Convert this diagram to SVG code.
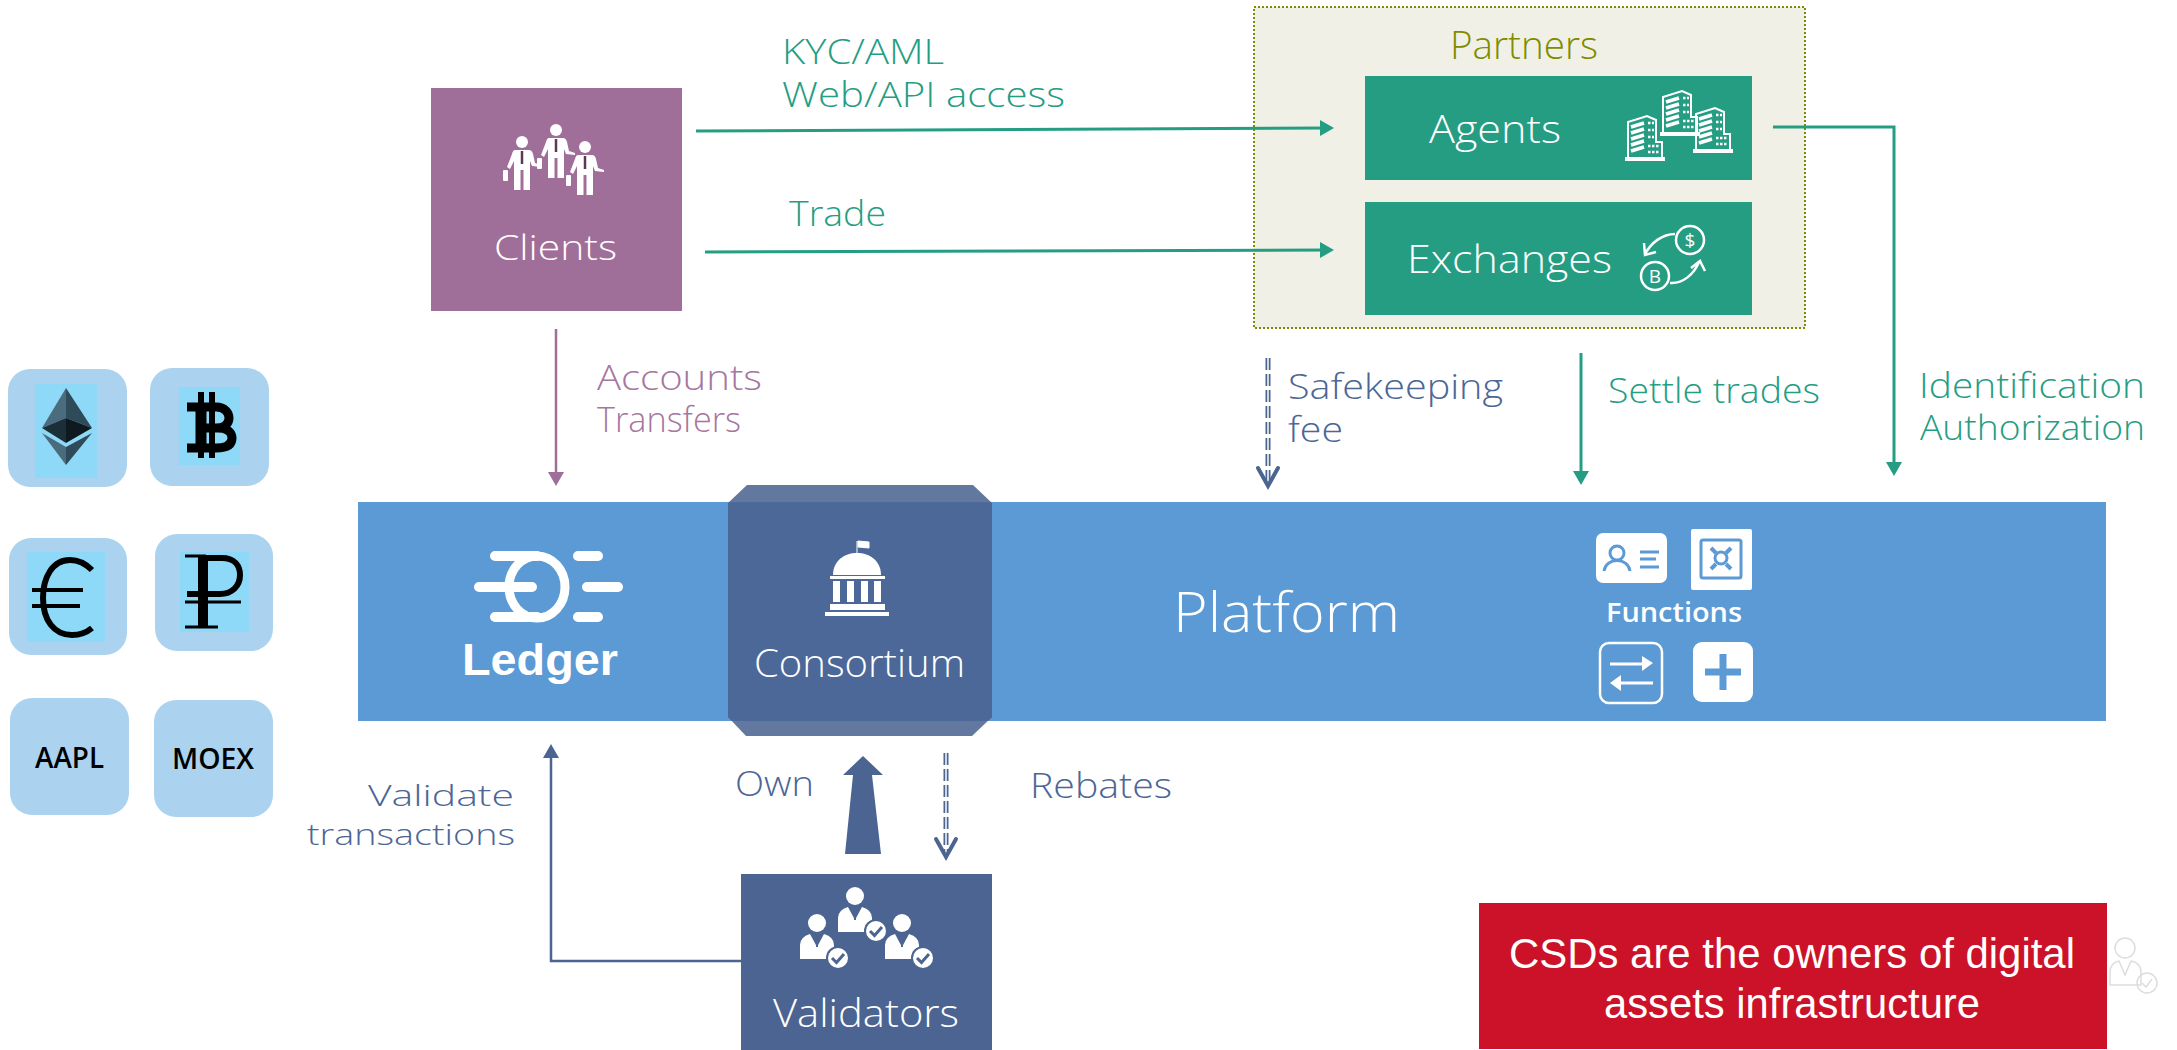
<svg xmlns="http://www.w3.org/2000/svg" width="2177" height="1050" viewBox="0 0 2177 1050">
<style>
text{font-family:"Open Sans","Liberation Sans",sans-serif;font-weight:300}
.w{fill:#fff}.g{fill:#259D83}.p{fill:#A676A0}.b{fill:#4C6696}
.tile{fill:#ABD3EF}.inner{fill:#8DD9F7}
.tk{font-weight:600;fill:#000;font-size:28px}
.gl{fill:none;stroke:#259D83;stroke-width:3}
.pl{fill:none;stroke:#9F6E99;stroke-width:2.5}
.bl{fill:none;stroke:#4C6491;stroke-width:2.5}
.dd{fill:none;stroke:#4C6491;stroke-width:5;stroke-dasharray:12 4}
.dw{fill:none;stroke:#fff;stroke-width:1.5}
.dh{fill:none;stroke:#4C6491;stroke-width:4;stroke-linecap:round;stroke-linejoin:miter}
.ic{fill:none;stroke:#fff}
.led{fill:none;stroke:#fff;stroke-width:10;stroke-linecap:round}
</style>
<defs>
<marker id="mg" viewBox="0 0 14 16" refX="8" refY="8" markerWidth="14" markerHeight="16" markerUnits="userSpaceOnUse" orient="auto"><path d="M0 0L14 8L0 16Z" fill="#259D83"/></marker>
<marker id="mp" viewBox="0 0 14 16" refX="8" refY="8" markerWidth="14" markerHeight="16" markerUnits="userSpaceOnUse" orient="auto"><path d="M0 0L14 8L0 16Z" fill="#9F6E99"/></marker>
<marker id="mb" viewBox="0 0 14 16" refX="8" refY="8" markerWidth="14" markerHeight="16" markerUnits="userSpaceOnUse" orient="auto"><path d="M0 0L14 8L0 16Z" fill="#4C6491"/></marker>
<g id="client">
<circle cx="0" cy="0" r="6" fill="#fff"/>
<path d="M-7 8H7Q10 8 11 12L13 21L19 23V25L10 24L8 19V48H1.500V28H-1.500V48H-8V19L-12 27L-15 25L-10 12Q-9 8 -7 8Z" fill="#fff"/>
<path d="M0 9V22" stroke="#5b3a58" stroke-width="2.500"/>
<rect x="-19" y="28" width="5" height="11" rx="1" fill="#fff"/>
</g>
<g id="val">
<circle cx="0" cy="0" r="9" fill="#fff"/>
<path d="M-17 36V22Q-17 14 -7 11L0 24L7 11Q17 14 17 22V36Z" fill="#fff"/>
<path d="M0 12V24" stroke="#4C6491" stroke-width="2"/>
<circle cx="21" cy="35" r="12" fill="#4C6491"/>
<circle cx="21" cy="35" r="10" fill="#fff"/>
<path d="M15 35L19.500 39.500L27 31" fill="none" stroke="#4C6491" stroke-width="3"/>
</g>
<g id="bld">
<path d="M3 42V6L22 0L31 4V26H37V42" fill="none" stroke="#fff" stroke-width="2"/>
<rect x="0" y="41" width="40" height="4" fill="#fff"/>
<path d="M6 11L19 7M6 17L19 13M6 23L19 19M6 29L19 25M6 35L19 31" stroke="#fff" stroke-width="3.500"/>
<path d="M23 7h6M23 14h6M23 21h6M23 30h11M23 36h11" stroke="#fff" stroke-width="2.500" stroke-dasharray="2.500 1.500"/>
</g>
</defs>

<rect width="2177" height="1050" fill="#fff"/>

<g id="assets">
<g id="eth"><rect class="tile" x="8" y="369" width="119" height="118" rx="22"/><rect class="inner" x="35" y="384" width="62" height="94"/>
<path d="M66 388L42 428L66 418Z" fill="#4b6c7e"/><path d="M66 388L92 428L66 418Z" fill="#2f4a58"/><path d="M42 428L66 418V443Z" fill="#1c2f39"/><path d="M92 428L66 418V443Z" fill="#0e1a20"/><path d="M42 433L66 447V465Z" fill="#4a6b7c"/><path d="M92 433L66 447V465Z" fill="#2f4a58"/></g>
<g id="btc"><rect class="tile" x="150" y="368" width="119" height="118" rx="22"/><rect class="inner" x="179" y="387" width="61" height="78"/>
<path d="M187 407H216C225 407 229 413 229 418C229 424 224 428 216 428H205H218C228 428 232 433 232 438C232 445 226 448 216 448H187" fill="none" stroke="#000" stroke-width="9"/><path d="M201 404V452" stroke="#000" stroke-width="11"/><path d="M201 392V458M212 392V458" stroke="#000" stroke-width="6"/></g>
<g id="eur"><rect class="tile" x="9" y="538" width="118" height="117" rx="22"/><rect class="inner" x="27" y="552" width="78" height="90"/>
<path d="M92 570C84 562 76 560 70 560C52 560 43 578 43 598C43 620 54 635 72 635C80 635 86 633 92 628" fill="none" stroke="#000" stroke-width="6"/><path d="M32 590H83M32 606H80" stroke="#000" stroke-width="4"/></g>
<g id="rub"><rect class="tile" x="155" y="534" width="118" height="117" rx="22"/><rect class="inner" x="180" y="552" width="69" height="80"/>
<path d="M203 556V628" stroke="#000" stroke-width="10"/><path d="M203 558H222C234 558 240 565 240 575C240 586 232 594 220 594H187" fill="none" stroke="#000" stroke-width="6"/><path d="M185 556H206M185 602H241M185 627H218" stroke="#000" stroke-width="3"/></g>
<g id="aapl"><rect class="tile" x="10" y="698" width="119" height="117" rx="22"/><text class="tk" x="35" y="768" textLength="69" lengthAdjust="spacingAndGlyphs">AAPL</text></g>
<g id="moex"><rect class="tile" x="154" y="700" width="119" height="117" rx="22"/><text class="tk" x="172" y="769" textLength="82" lengthAdjust="spacingAndGlyphs">MOEX</text></g>
</g>

<g id="partners">
<rect x="1254" y="7" width="551" height="321" fill="#F0F0E6" stroke="#7F8C00" stroke-width="2" stroke-dasharray="2 2"/>
<text x="1450" y="59" font-size="38" fill="#7F8C00" textLength="148" lengthAdjust="spacingAndGlyphs">Partners</text>
</g>
<g id="agents">
<rect x="1365" y="76" width="387" height="104" fill="#259D83"/>
<text class="w" x="1429" y="143" font-size="39" textLength="132" lengthAdjust="spacingAndGlyphs">Agents</text>
<use href="#bld" x="1660" y="91"/>
<use href="#bld" x="1625" y="116"/>
<use href="#bld" x="1693" y="108"/>
</g>
<g id="exchanges">
<rect x="1365" y="202" width="387" height="113" fill="#259D83"/>
<text class="w" x="1407" y="273" font-size="39" textLength="205" lengthAdjust="spacingAndGlyphs">Exchanges</text>
<circle class="ic" cx="1690" cy="240" r="14" stroke-width="2.500"/>
<circle class="ic" cx="1655" cy="276" r="14" stroke-width="2.500"/>
<text class="w" x="1690" y="247" font-size="19" text-anchor="middle" style="font-weight:400">$</text>
<text class="w" x="1655" y="283" font-size="19" text-anchor="middle" style="font-weight:400">B</text>
<path class="ic" stroke-width="2.500" d="M1675 234C1662 234 1651 243 1645 254M1644 243L1645 255L1656 252"/>
<path class="ic" stroke-width="2.500" d="M1670 283C1683 284 1694 274 1699 262M1691 268L1700 261L1705 271"/>
</g>

<g id="clients">
<rect x="431" y="88" width="251" height="223" fill="#9F6E99"/>
<use href="#client" x="556" y="130"/>
<use href="#client" x="522" y="142"/>
<use href="#client" x="585" y="147"/>
<text class="w" x="494" y="260" font-size="35" textLength="123" lengthAdjust="spacingAndGlyphs">Clients</text>
</g>

<g id="platform">
<rect x="358" y="502" width="1748" height="219" fill="#5B9AD5"/>
<text class="w" x="1173" y="632" font-size="56" textLength="227" lengthAdjust="spacingAndGlyphs">Platform</text>
</g>
<g id="ledger">
<ellipse class="led" cx="537" cy="587" rx="28" ry="31" style="stroke-width:9"/>
<path class="led" d="M495 556H537M479 587H532M495 617H537M578 556H598M587 587H618M578 617H598"/>
<text x="462" y="675" font-size="45" class="w" style="font-family:'Liberation Sans',sans-serif;font-weight:700" textLength="156" lengthAdjust="spacingAndGlyphs">Ledger</text>
</g>
<g id="functions">
<rect x="1596" y="533" width="71" height="50" rx="7" fill="#fff"/>
<circle cx="1617" cy="553" r="7" fill="none" stroke="#5B9AD5" stroke-width="3"/>
<path d="M1604 571C1606 557 1628 557 1630 571M1640 552H1659M1640 559H1656M1640 567H1659" fill="none" stroke="#5B9AD5" stroke-width="3"/>
<rect x="1691" y="529" width="61" height="61" rx="2" fill="#fff"/>
<rect x="1701" y="540" width="40" height="38" rx="2" fill="none" stroke="#5B9AD5" stroke-width="3"/>
<circle cx="1721" cy="558" r="6" fill="none" stroke="#5B9AD5" stroke-width="3"/>
<path d="M1711 548L1716 553M1731 548L1726 553M1711 569L1716 564M1731 569L1726 564" stroke="#5B9AD5" stroke-width="4"/>
<text x="1606" y="622" font-size="27" class="w" style="font-weight:600" textLength="136" lengthAdjust="spacingAndGlyphs">Functions</text>
<rect x="1600" y="643" width="62" height="60" rx="9" fill="none" stroke="#fff" stroke-width="2.500"/>
<path d="M1610 664H1642M1620 683H1653" stroke="#fff" stroke-width="3"/>
<path d="M1642 656L1653 663L1642 671ZM1621 675L1610 683L1621 691Z" fill="#fff"/>
<rect x="1693" y="642" width="60" height="60" rx="9" fill="#fff"/>
<path d="M1705 672H1741M1723 654V690" stroke="#5B9AD5" stroke-width="7"/>
</g>
<g id="consortium">
<path d="M747 485H973L992 503V717L972 736H746L728 717V503Z" fill="#4C6491" fill-opacity=".87"/>
<path d="M728 503H992V717L988 721H732L728 717Z" fill="#4C6898"/>
<path d="M857 553V541M858 541L869 542V548L858 547Z" fill="#fff" stroke="#fff" stroke-width="1"/>
<path d="M833 575C833 561 844 553 857 553C870 553 881 561 881 575Z" fill="#fff"/>
<path d="M830 576H885V579H830ZM833 581H840V602H833ZM847 581H854V602H847ZM861 581H868V602H861ZM874 581H881V602H874ZM830 604H885V610H830ZM825 612H889V616H825Z" fill="#fff"/>
<text class="w" x="754" y="677" font-size="39" textLength="211" lengthAdjust="spacingAndGlyphs">Consortium</text>
</g>
<g id="validators">
<rect x="741" y="874" width="251" height="176" fill="#4C6491"/>
<use href="#val" x="855" y="896"/>
<use href="#val" x="817" y="923"/>
<use href="#val" x="902" y="923"/>
<text class="w" x="773" y="1027" font-size="38" textLength="186" lengthAdjust="spacingAndGlyphs">Validators</text>
</g>
<g id="note">
<g fill="none" stroke="#ddd" stroke-width="1.500"><circle cx="2125" cy="948" r="10"/><path d="M2110 985V972Q2110 963 2119 961L2125 975L2131 961Q2141 963 2141 972V985Z"/><circle cx="2147" cy="983" r="10"/><path d="M2142 983L2146 987L2152 979"/></g>
<rect x="1479" y="903" width="628" height="146" fill="#CC1228"/>
<text class="w" x="1509" y="968" font-size="42" style="font-family:'Liberation Sans',sans-serif;font-weight:400" textLength="566" lengthAdjust="spacingAndGlyphs">CSDs are the owners of digital</text>
<text class="w" x="1604" y="1018" font-size="42" style="font-family:'Liberation Sans',sans-serif;font-weight:400" textLength="376" lengthAdjust="spacingAndGlyphs">assets infrastructure</text>
</g>

<g id="connectors">
<path class="gl" d="M696 131L1328 128" marker-end="url(#mg)"/>
<path class="gl" d="M705 252L1328 250" marker-end="url(#mg)"/>
<path class="gl" d="M1773 127H1894V470" marker-end="url(#mg)"/>
<path class="gl" d="M1581 353V479" marker-end="url(#mg)"/>
<path class="pl" d="M556 329V480" marker-end="url(#mp)"/>
<path class="bl" d="M741 961H551V750" marker-end="url(#mb)"/>
<path class="dd" d="M1268 358V483"/><path class="dw" d="M1268 358V483"/><path class="dh" d="M1258 468L1268 486L1278 468"/>
<path class="dd" d="M946 753V854"/><path class="dw" d="M946 753V854"/><path class="dh" d="M936 839L946 857L956 839"/>
<path d="M863 756L883 775H872L881 854H845L853 775H843Z" fill="#4C6491"/>
</g>

<g id="labels">
<text class="g" x="782" y="64" font-size="34" textLength="162" lengthAdjust="spacingAndGlyphs">KYC/AML</text>
<text class="g" x="782" y="107" font-size="34" textLength="283" lengthAdjust="spacingAndGlyphs">Web/API access</text>
<text class="g" x="789" y="226" font-size="34" textLength="97" lengthAdjust="spacingAndGlyphs">Trade</text>
<text class="p" x="597" y="390" font-size="34" textLength="165" lengthAdjust="spacingAndGlyphs">Accounts</text>
<text class="p" x="597" y="432" font-size="34" textLength="144" lengthAdjust="spacingAndGlyphs">Transfers</text>
<text class="b" x="1288" y="399" font-size="34" textLength="215" lengthAdjust="spacingAndGlyphs">Safekeeping</text>
<text class="b" x="1288" y="442" font-size="34" textLength="55" lengthAdjust="spacingAndGlyphs">fee</text>
<text class="g" x="1608" y="403" font-size="34" textLength="212" lengthAdjust="spacingAndGlyphs">Settle trades</text>
<text class="g" x="1919" y="398" font-size="34" textLength="226" lengthAdjust="spacingAndGlyphs">Identification</text>
<text class="g" x="1920" y="440" font-size="34" textLength="225" lengthAdjust="spacingAndGlyphs">Authorization</text>
<text class="b" x="735" y="796" font-size="34" textLength="79" lengthAdjust="spacingAndGlyphs">Own</text>
<text class="b" x="1030" y="798" font-size="34" textLength="142" lengthAdjust="spacingAndGlyphs">Rebates</text>
<text class="b" x="368" y="806" font-size="30" textLength="146" lengthAdjust="spacingAndGlyphs">Validate</text>
<text class="b" x="307" y="845" font-size="30" textLength="208" lengthAdjust="spacingAndGlyphs">transactions</text>
</g>
</svg>
